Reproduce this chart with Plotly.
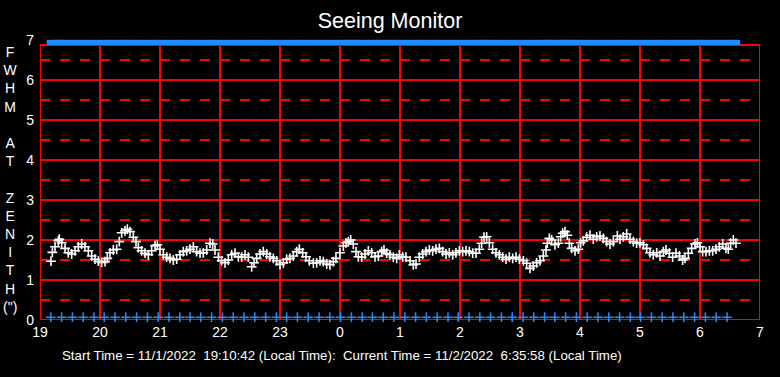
import plotly.graph_objects as go

# ---- data (hours since midnight of 11/1; 24+ = next day) ----
hours = [
    19.183, 19.206, 19.25, 19.306, 19.322, 19.361, 19.417, 19.472, 19.528, 19.583,
    19.639, 19.694, 19.75, 19.806, 19.861, 19.917, 19.972, 20.028, 20.083, 20.122,
    20.167, 20.222, 20.278, 20.322, 20.361, 20.417, 20.456, 20.5, 20.556, 20.6,
    20.639, 20.694, 20.75, 20.806, 20.861, 20.917, 20.956, 21.0, 21.056, 21.111,
    21.167, 21.222, 21.278, 21.333, 21.389, 21.444, 21.5, 21.556, 21.611, 21.667,
    21.722, 21.778, 21.833, 21.878, 21.917, 21.972, 22.028, 22.083, 22.139, 22.194,
    22.25, 22.306, 22.361, 22.417, 22.472, 22.528, 22.567, 22.611, 22.667, 22.722,
    22.778, 22.833, 22.889, 22.944, 23.0, 23.056, 23.111,
    23.167, 23.222, 23.278, 23.322, 23.378, 23.433, 23.489, 23.556, 23.611, 23.667,
    23.722, 23.778, 23.833, 23.889, 23.933, 24.0, 24.056, 24.1, 24.139, 24.178,
    24.222, 24.267, 24.306, 24.361, 24.417, 24.472, 24.528, 24.583, 24.639, 24.694,
    24.733, 24.778, 24.833, 24.889, 24.944, 24.989, 25.044, 25.1, 25.167, 25.222,
    25.267, 25.322, 25.378, 25.433, 25.489, 25.544, 25.6, 25.656, 25.711, 25.767,
    25.822, 25.878, 25.933, 25.989, 26.044, 26.1, 26.156, 26.211, 26.267, 26.322,
    26.361, 26.4, 26.444, 26.489, 26.544, 26.6, 26.656, 26.711, 26.767, 26.822,
    26.878, 26.933, 26.989,
    27.056, 27.111, 27.167, 27.222, 27.278, 27.333, 27.389, 27.433, 27.456, 27.489,
    27.528, 27.583, 27.639, 27.678, 27.711, 27.75, 27.789, 27.822, 27.861, 27.917,
    27.972, 28.011, 28.056, 28.111, 28.167, 28.222, 28.278, 28.333, 28.389, 28.444,
    28.5, 28.556, 28.622, 28.667, 28.722, 28.778, 28.833, 28.889, 28.944, 29.0,
    29.056, 29.111, 29.167, 29.222, 29.278, 29.333, 29.389, 29.433, 29.489, 29.544,
    29.6, 29.656, 29.711, 29.75, 29.806, 29.861, 29.917, 29.956, 30.0, 30.044,
    30.1, 30.156, 30.211, 30.267, 30.322, 30.378, 30.433, 30.472, 30.511, 30.556,
    30.6,
]
fwhm = [
    1.47, 1.69, 1.83, 1.98, 2.02, 1.93, 1.79, 1.68, 1.65, 1.73,
    1.83, 1.90, 1.83, 1.73, 1.60, 1.52, 1.47, 1.44, 1.46, 1.54,
    1.68, 1.75, 1.77, 1.96, 2.18, 2.23, 2.27, 2.21, 2.07, 1.96,
    1.81, 1.73, 1.67, 1.63, 1.73, 1.86, 1.88, 1.77, 1.63, 1.57,
    1.54, 1.50, 1.52, 1.63, 1.71, 1.73, 1.77, 1.83, 1.71, 1.67,
    1.68, 1.75, 1.92, 1.90, 1.75, 1.57, 1.48, 1.43, 1.50, 1.63,
    1.67, 1.58, 1.57, 1.63, 1.57, 1.33, 1.43, 1.54, 1.65, 1.71,
    1.65, 1.58, 1.54, 1.48, 1.39, 1.43, 1.52,
    1.54, 1.60, 1.71, 1.77, 1.68, 1.58, 1.48, 1.42, 1.43, 1.48,
    1.46, 1.40, 1.38, 1.46, 1.54, 1.68, 1.85, 1.93, 1.96, 2.00,
    1.90, 1.71, 1.58, 1.57, 1.65, 1.73, 1.68, 1.58, 1.60, 1.71,
    1.75, 1.67, 1.63, 1.57, 1.54, 1.63, 1.58, 1.57, 1.48, 1.38,
    1.40, 1.57, 1.65, 1.71, 1.75, 1.73, 1.77, 1.79, 1.71, 1.65,
    1.68, 1.63, 1.68, 1.73, 1.71, 1.73, 1.71, 1.67, 1.67, 1.77,
    1.92, 2.07, 2.08, 1.93, 1.77, 1.68, 1.63, 1.57, 1.52, 1.57,
    1.54, 1.57, 1.52,
    1.48, 1.42, 1.29, 1.35, 1.43, 1.48, 1.60, 1.75, 1.92, 2.04,
    2.00, 1.88, 1.92, 2.08, 2.17, 2.21, 2.12, 1.92, 1.79, 1.73,
    1.77, 1.93, 1.98, 2.07, 2.12, 2.02, 2.08, 2.10, 2.04, 1.96,
    1.90, 1.96, 2.10, 2.02, 2.08, 2.15, 2.02, 1.96, 1.92, 1.93,
    1.88, 1.79, 1.68, 1.63, 1.68, 1.60, 1.71, 1.75, 1.67, 1.57,
    1.67, 1.60, 1.50, 1.54, 1.67, 1.79, 1.90, 1.93, 1.83, 1.71,
    1.71, 1.73, 1.73, 1.77, 1.83, 1.90, 1.79, 1.77, 1.92, 2.00,
    1.92,
]
# bottom row of blue sample markers (hours)
bottom_hours = [
    19.18, 19.36, 19.54, 19.72, 19.90, 20.07, 20.25, 20.43, 20.61, 20.79,
    20.97, 21.15, 21.33, 21.50, 21.68, 21.86, 22.04, 22.22, 22.40, 22.58,
    22.76, 22.94, 23.11, 23.29, 23.47, 23.65, 23.83, 24.01, 24.19, 24.37,
    24.54, 24.72, 24.90, 25.08, 25.26, 25.44, 25.62, 25.80, 25.97, 26.15,
    26.33, 26.51, 26.69, 26.87, 27.05, 27.23, 27.41, 27.58, 27.76, 27.94,
    28.12, 28.30, 28.48, 28.66, 28.84, 29.01, 29.19, 29.37, 29.55, 29.73,
    29.91, 30.09, 30.27, 30.45,
]
x_tick_vals = [19, 20, 21, 22, 23, 24, 25, 26, 27, 28, 29, 30, 31]
x_tick_text = ["19", "20", "21", "22", "23", "0", "1", "2", "3", "4", "5", "6", "7"]
y_tick_vals = [0, 1, 2, 3, 4, 5, 6, 7]
top_level = 6.94
bottom_level = 0.07
box_top = 6.875

RED = "#FF0000"
BLUE = "#1E8CFF"
FONT = "Liberation Sans, Arial, sans-serif"

fig = go.Figure()

# top blue band
fig.add_trace(go.Scatter(
    x=hours, y=[top_level] * len(hours), mode="markers",
    marker=dict(symbol="line-ew", size=6, line=dict(color=BLUE, width=5)),
    hoverinfo="skip", showlegend=False, cliponaxis=False))
# bottom blue crosses
fig.add_trace(go.Scatter(
    x=bottom_hours, y=[bottom_level] * len(bottom_hours), mode="markers",
    marker=dict(symbol="cross-thin", size=7, line=dict(color=BLUE, width=1.5)),
    hoverinfo="skip", showlegend=False, cliponaxis=False))
# seeing data
fig.add_trace(go.Scatter(
    x=hours, y=fwhm, mode="markers",
    marker=dict(symbol="cross-thin", size=7, line=dict(color="white", width=1.6)),
    showlegend=False))

shapes = []
for h in range(20, 31):
    shapes.append(dict(type="line", xref="x", yref="y", x0=h, x1=h, y0=0, y1=box_top,
                       line=dict(color=RED, width=2), layer="below"))
for v in range(1, 7):
    shapes.append(dict(type="line", xref="x", yref="y", x0=19, x1=31, y0=v, y1=v,
                       line=dict(color=RED, width=2), layer="below"))
for v in [0.5, 1.5, 2.5, 3.5, 4.5, 5.5, 6.5]:
    shapes.append(dict(type="line", xref="x", yref="y", x0=19, x1=31, y0=v, y1=v,
                       line=dict(color=RED, width=2, dash="10px,10px"), layer="below"))
shapes.append(dict(type="rect", xref="x", yref="y", x0=19, x1=31, y0=0, y1=box_top,
                   line=dict(color=RED, width=2), layer="below"))

fig.update_layout(
    width=780, height=377,
    paper_bgcolor="black", plot_bgcolor="black",
    margin=dict(l=40, r=20, t=40, b=57),
    font=dict(family=FONT, color="white", size=14),
    title=dict(text="Seeing Monitor", x=0.5, xanchor="center", y=0.945, yanchor="middle",
               font=dict(family=FONT, size=21.5, color="white")),
    xaxis=dict(range=[19, 31], tickvals=x_tick_vals, ticktext=x_tick_text,
               showgrid=False, zeroline=False, showline=False, ticks="",
               tickfont=dict(size=14, color="white"), ticklabelstandoff=2,
               fixedrange=True),
    yaxis=dict(range=[0, 7], tickvals=y_tick_vals, showgrid=False, zeroline=False,
               showline=False, ticks="", tickfont=dict(size=14, color="white"),
               ticklabelstandoff=5, fixedrange=True),
    shapes=shapes,
    annotations=[
        dict(text="F<br>W<br>H<br>M<br> <br>A<br>T<br> <br>Z<br>E<br>N<br>I<br>T<br>H<br>(\")",
             xref="paper", yref="paper", x=-0.0403, y=0.502, xanchor="center",
             yanchor="middle", align="center", showarrow=False,
             font=dict(family=FONT, size=14, color="white")),
        dict(text="Start Time = 11/1/2022\u00a0\u00a019:10:42 (Local Time):\u00a0\u00a0Current Time = 11/2/2022\u00a0\u00a06:35:58 (Local Time)",
             xref="paper", yref="paper", x=(342 - 40) / 720, y=-(355 - 320) / 280,
             xanchor="center", yanchor="middle", showarrow=False,
             font=dict(family=FONT, size=13.3, color="white")),
    ],
)

fig.write_html("out.html", config={"displayModeBar": False},
               post_script="document.body.style.margin='0';document.body.style.background='black';")
